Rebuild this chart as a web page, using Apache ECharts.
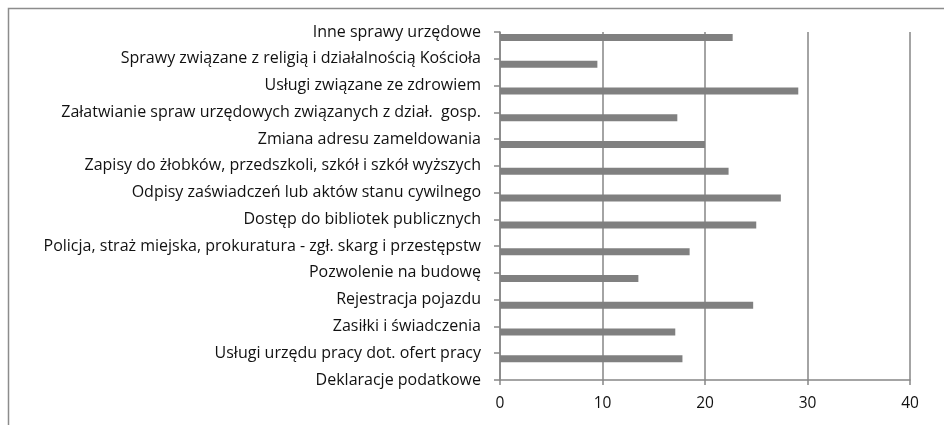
<!DOCTYPE html>
<html>
<head>
<meta charset="utf-8">
<script src="https://cdn.jsdelivr.net/npm/echarts@6/dist/echarts.min.js"></script>
<style>
  html, body { margin: 0; padding: 0; background: #fff; }
  #chart { width: 944px; height: 425px; }
</style>
</head>
<body>
<div id="chart"></div>
<script>
// categories top to bottom, as in the picture
const categories = [
  "Inne sprawy urzędowe",
  "Sprawy związane z religią i działalnością Kościoła",
  "Usługi związane ze zdrowiem",
  "Załatwianie spraw urzędowych związanych z dział.  gosp.",
  "Zmiana adresu zameldowania",
  "Zapisy do żłobków, przedszkoli, szkół i szkół wyższych",
  "Odpisy zaświadczeń lub aktów stanu cywilnego",
  "Dostęp do bibliotek publicznych",
  "Policja, straż miejska, prokuratura - zgł. skarg i przestępstw",
  "Pozwolenie na budowę",
  "Rejestracja pojazdu",
  "Zasiłki i świadczenia",
  "Usługi urzędu pracy dot. ofert pracy",
  "Deklaracje podatkowe"
];
const values = [22.7, 9.5, 29.1, 17.3, 20.0, 22.3, 27.4, 25.0, 18.5, 13.5, 24.7, 17.1, 17.8, null];
const xTicks = [0, 40, 10];   // min, max, step

const gray = "#868686";
const font = "Open Sans";

const chart = echarts.init(document.getElementById("chart"));
chart.setOption({
  animation: false,
  graphic: [{
    type: "rect",
    shape: { x: 8.5, y: 8.5, width: 1000, height: 1000 },
    style: { fill: "none", stroke: "#8c8c8c", lineWidth: 1.5 },
    silent: true
  }],
  grid: { left: 500, right: 34, top: 32, bottom: 45 },
  xAxis: {
    type: "value",
    min: xTicks[0],
    max: xTicks[1],
    interval: xTicks[2],
    axisLine: { show: true, lineStyle: { color: gray, width: 1.5 } },
    axisTick: { show: true, length: 5, lineStyle: { color: gray, width: 1.5 } },
    axisLabel: { color: "#111", fontFamily: font, fontSize: 15.5, margin: 16 },
    splitLine: { show: true, lineStyle: { color: gray, width: 1.5 } }
  },
  yAxis: {
    type: "category",
    data: categories,
    inverse: true,
    boundaryGap: false,
    axisLine: { show: true, lineStyle: { color: gray, width: 1.5 } },
    axisTick: { show: true, inside: false, length: 6, alignWithLabel: true, lineStyle: { color: gray, width: 1.5 } },
    axisLabel: { color: "#111", fontFamily: font, fontSize: 16, margin: 19, interval: 0 },
    splitLine: { show: false }
  },
  series: [
    {
      // empty spacer series so the real bars sit just below each tick
      type: "bar",
      data: categories.map(() => null),
      barWidth: 7,
      barGap: "57%",
      silent: true
    },
    {
      type: "bar",
      data: values,
      barWidth: 7,
      barGap: "57%",
      itemStyle: { color: "#808080" }
    }
  ]
});
</script>
</body>
</html>
